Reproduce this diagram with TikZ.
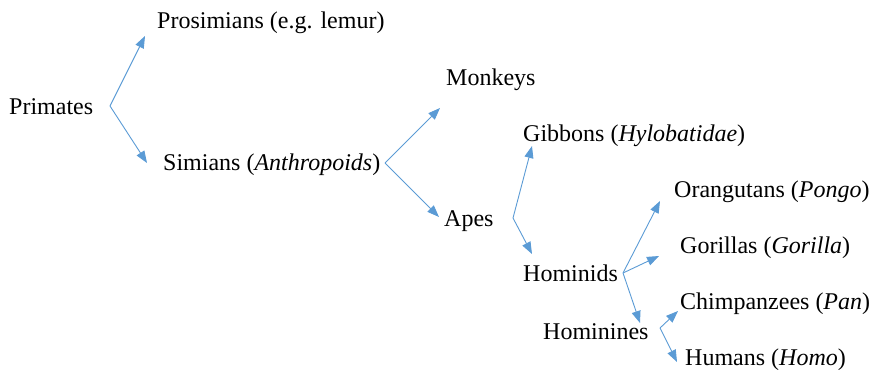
\documentclass[tikz,border=0pt]{standalone}
\usepackage{fontspec}
\setmainfont{Liberation Serif}
\usetikzlibrary{arrows.meta}
\definecolor{linkblue}{HTML}{5B9BD5}
\begin{document}
\begin{tikzpicture}[x=1pt,y=-1pt,
  lbl/.style={anchor=base west,inner sep=0pt,font=\fontsize{24}{28}\selectfont},
  link/.style={draw=linkblue,line width=0.9pt,-{Triangle[length=12pt,width=9pt]}}]
\useasboundingbox (0,0) rectangle (874,369);
% labels
\node[lbl] (primates) at (9,114) {Primates};
\node[lbl] (prosim) at (157,29) {Prosimians (e.g. lemur)};
\node[lbl] (simians) at (163,170) {Simians (\textit{Anthropoids})};
\node[lbl] (monkeys) at (446,85) {Monkeys};
\node[lbl] (apes) at (444,226) {Apes};
\node[lbl] (gibbons) at (523,141) {Gibbons (\textit{Hylobatidae})};
\node[lbl] (hominids) at (523,281) {Hominids};
\node[lbl] (orang) at (674,197) {Orangutans (\textit{Pongo})};
\node[lbl] (gorillas) at (680,253) {Gorillas (\textit{Gorilla})};
\node[lbl] (chimps) at (680,309) {Chimpanzees (\textit{Pan})};
\node[lbl] (hominines) at (543,339) {Hominines};
\node[lbl] (humans) at (685,365) {Humans (\textit{Homo})};
% branch points and arrow ends
\coordinate (bPrim) at (110,106);
\coordinate (tProsim) at (145,36);
\coordinate (tSim) at (147,163);
\coordinate (bSim) at (385,163);
\coordinate (tMonk) at (440,108);
\coordinate (tApes) at (439,217);
\coordinate (bApes) at (513,218);
\coordinate (tGib) at (532,146);
\coordinate (tHomd) at (532,254);
\coordinate (bHomd) at (623,273);
\coordinate (tOrang) at (660,201);
\coordinate (tGor) at (659,256);
\coordinate (tHomn) at (640,323);
\coordinate (bHomn) at (660,328);
\coordinate (tChimp) at (678,311);
\coordinate (tHum) at (677,362);
% connectors
\draw[link] (bPrim) -- (tProsim);
\draw[link] (bPrim) -- (tSim);
\draw[link] (bSim) -- (tMonk);
\draw[link] (bSim) -- (tApes);
\draw[link] (bApes) -- (tGib);
\draw[link] (bApes) -- (tHomd);
\draw[link] (bHomd) -- (tOrang);
\draw[link] (bHomd) -- (tGor);
\draw[link] (bHomd) -- (tHomn);
\draw[link] (bHomn) -- (tChimp);
\draw[link] (bHomn) -- (tHum);
\end{tikzpicture}
\end{document}
